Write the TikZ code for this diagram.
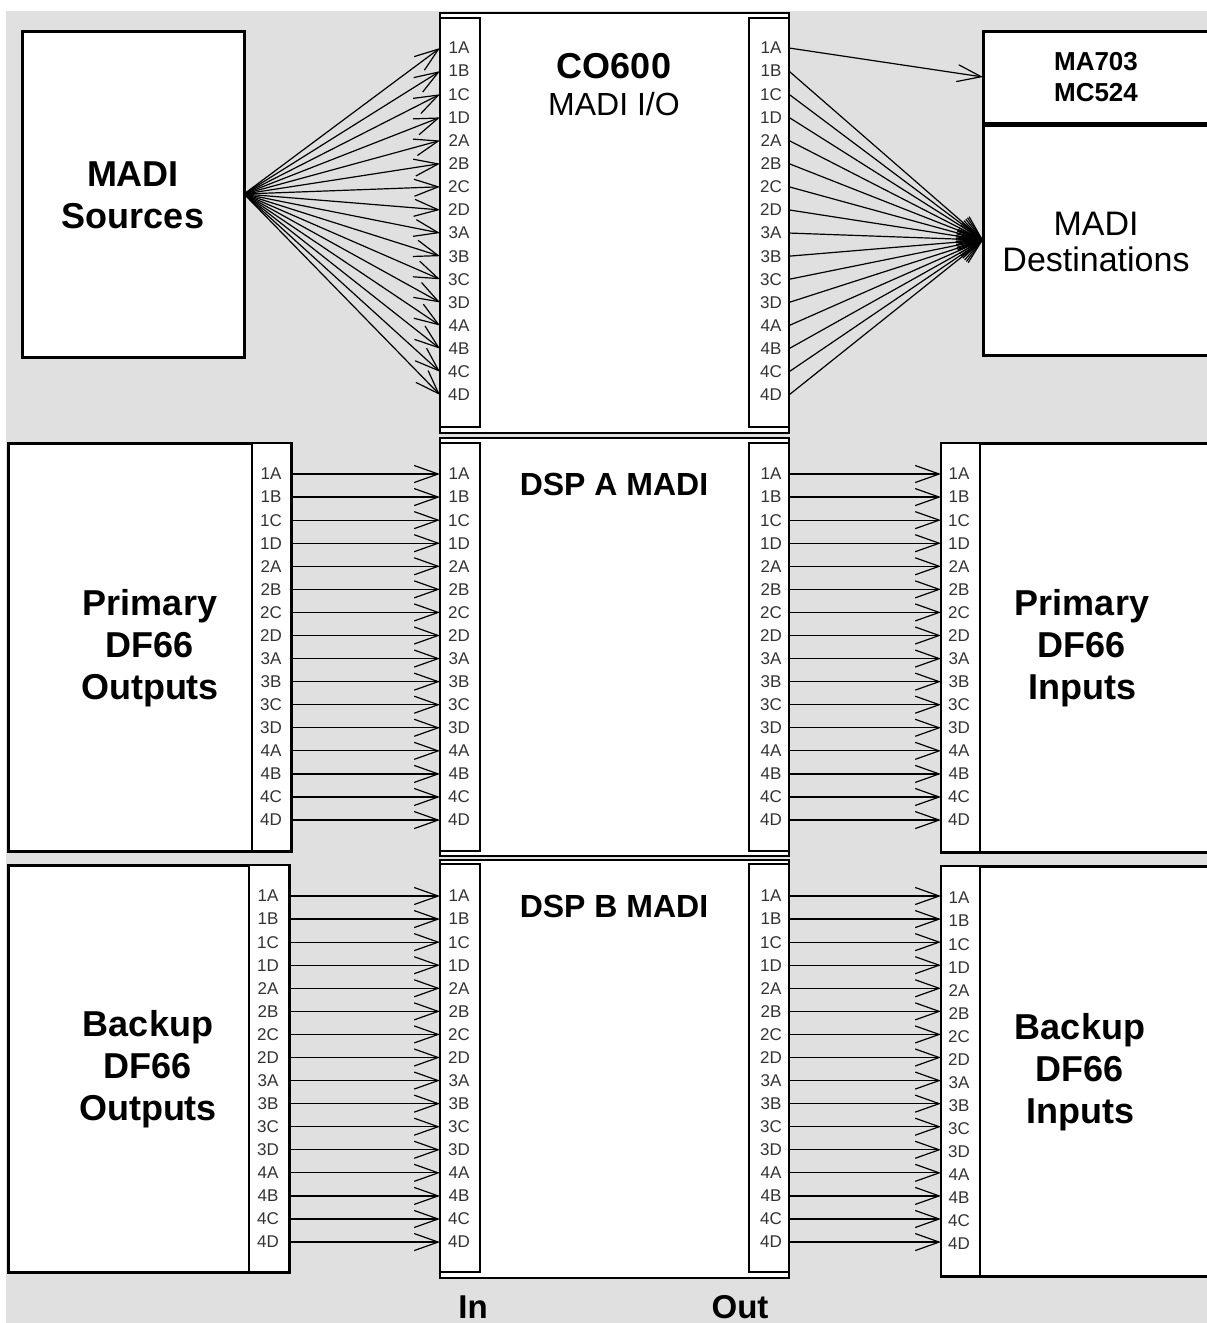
\documentclass[tikz,border=0pt]{standalone}
\usepackage{fontspec}
\setmainfont{Liberation Sans}
\usetikzlibrary{arrows.meta}
\definecolor{panel}{HTML}{E0E0E0}

\tikzset{
  unit/.style={draw=black,line width=3pt,fill=white,outer sep=0pt,inner sep=0pt,anchor=north west},
  card/.style={unit,line width=2.5pt,minimum width=349pt},
  strip/.style={draw=black,line width=2pt,fill=white,outer sep=0pt,inner sep=0pt,anchor=north west},
  port/.style={font=\fontsize{17}{19}\selectfont,inner sep=0pt,text=black!80},
  title/.style={font=\fontsize{36}{42}\selectfont\bfseries,align=center},
  wire/.style={line width=1.2pt,-{Straight Barb[length=24pt,width=17pt]}},
}

\begin{document}
\begin{tikzpicture}[x=1pt,y=-1pt]
  \useasboundingbox (0,0) rectangle (1207,1323);
  \fill[panel] (6,11) rectangle (1207,1323);
  \def\portlist{1A,1B,1C,1D,2A,2B,2C,2D,3A,3B,3C,3D,4A,4B,4C,4D}
  % boxes
  \node[unit,minimum width=222pt,minimum height=326pt] (src) at (22,31) {};
  \node[unit,minimum width=227pt,minimum height=92pt] (ma) at (983,31) {};
  \node[unit,minimum width=227pt,minimum height=230pt] (dst) at (983,125) {};
  \node[card,minimum height=420pt] (co) at (440,13) {};
  \node[card,minimum height=418pt] (dspa) at (440,438) {};
  \node[card,minimum height=418pt] (dspb) at (440,860) {};
  \node[unit,minimum width=283pt,minimum height=408pt] (pout) at (8,443) {};
  \node[unit,minimum width=281pt,minimum height=407pt] (bout) at (8,865) {};
  \node[unit,minimum width=270pt,minimum height=409pt] (pin) at (941,443) {};
  \node[unit,minimum width=270pt,minimum height=410pt] (bin) at (941,866) {};
  % strips
  \foreach \nm/\x/\y/\h in {co/440/18/409,dspa/440/443/408,dspb/440/864/408}{
    \node[strip,minimum width=40pt,minimum height=\h pt] (\nm-ls) at (\x,\y) {};
    \node[strip,minimum width=40pt,minimum height=\h pt] (\nm-rs) at (749,\y) {};
  }
  \node[strip,minimum width=39pt,minimum height=408pt] (pout-s) at (252,443) {};
  \node[strip,minimum width=40pt,minimum height=407pt] (bout-s) at (249,865) {};
  \node[strip,minimum width=39pt,minimum height=409pt] (pin-s) at (941,443) {};
  \node[strip,minimum width=39pt,minimum height=410pt] (bin-s) at (941,866) {};
  % titles
  \node[title] (srct) at (133,195) {MADI\\Sources};
  \node[font=\fontsize{26}{31}\selectfont\bfseries,align=center] (mat) at (1096,77) {MA703\\MC524};
  \node[font=\fontsize{34}{36}\selectfont,align=center] (dstt) at (1096,242) {MADI\\Destinations};
  \node[title] (cot) at (614,66) {CO600};
  \node[font=\fontsize{32}{36}\selectfont] (cot2) at (614,104) {MADI I/O};
  \node[font=\fontsize{32}{36}\selectfont\bfseries] (dspat) at (614,484) {DSP A MADI};
  \node[font=\fontsize{32}{36}\selectfont\bfseries] (dspbt) at (614,906) {DSP B MADI};
  \node[title] (poutt) at (150,648) {Primary\\DF66\\Outputs};
  \node[title] (boutt) at (148,1069) {Backup\\DF66\\Outputs};
  \node[title] (pint) at (1082,648) {Primary\\DF66\\Inputs};
  \node[title] (bint) at (1080,1072) {Backup\\DF66\\Inputs};
  \node[font=\fontsize{33}{36}\selectfont\bfseries,anchor=base,inner sep=0pt] (inl) at (473,1318) {In};
  \node[font=\fontsize{33}{36}\selectfont\bfseries,anchor=base,inner sep=0pt] (outl) at (740,1318) {Out};
  % ports of the MADI cards
  \foreach \sec/\yo/\dy in {co/48/23.13,a/474/23.07,b/896/23.07}{
    \foreach \p [count=\i from 0] in \portlist{
      \pgfmathsetmacro\yy{\yo+\i*\dy}
      \node[port] (\sec-in-\p) at (459,\yy) {\p};
      \node[port] (\sec-out-\p) at (771,\yy) {\p};
      \coordinate (\sec-i\p) at (440,\yy);
      \coordinate (\sec-o\p) at (789,\yy);
    }
  }
  % ports of the DF66 units
  \foreach \p [count=\i from 0] in \portlist{
    \pgfmathsetmacro\ya{474+\i*23.07}
    \pgfmathsetmacro\yb{896+\i*23.07}
    \node[port] (pout-\p) at (271,\ya) {\p};
    \node[port] (bout-\p) at (268,\yb) {\p};
    \node[port] (pin-\p) at (959,\ya) {\p};
    \node[port] (bin-\p) at (959,\yb+2) {\p};
    \coordinate (po\p) at (291,\ya);
    \coordinate (bo\p) at (289,\yb);
    \coordinate (pi\p) at (941,\ya);
    \coordinate (bi\p) at (941,\yb);
  }
  % connections
  \foreach \p in \portlist{
    \draw[wire] (src.east) -- (co-i\p);
    \draw[wire] (po\p) -- (a-i\p);
    \draw[wire] (bo\p) -- (b-i\p);
    \draw[wire] (a-o\p) -- (pi\p);
    \draw[wire] (b-o\p) -- (bi\p);
  }
  \draw[wire] (co-o1A) -- (ma.west);
  \foreach \p in {1B,1C,1D,2A,2B,2C,2D,3A,3B,3C,3D,4A,4B,4C,4D}
    \draw[wire] (co-o\p) -- (dst.west);
\end{tikzpicture}
\end{document}
